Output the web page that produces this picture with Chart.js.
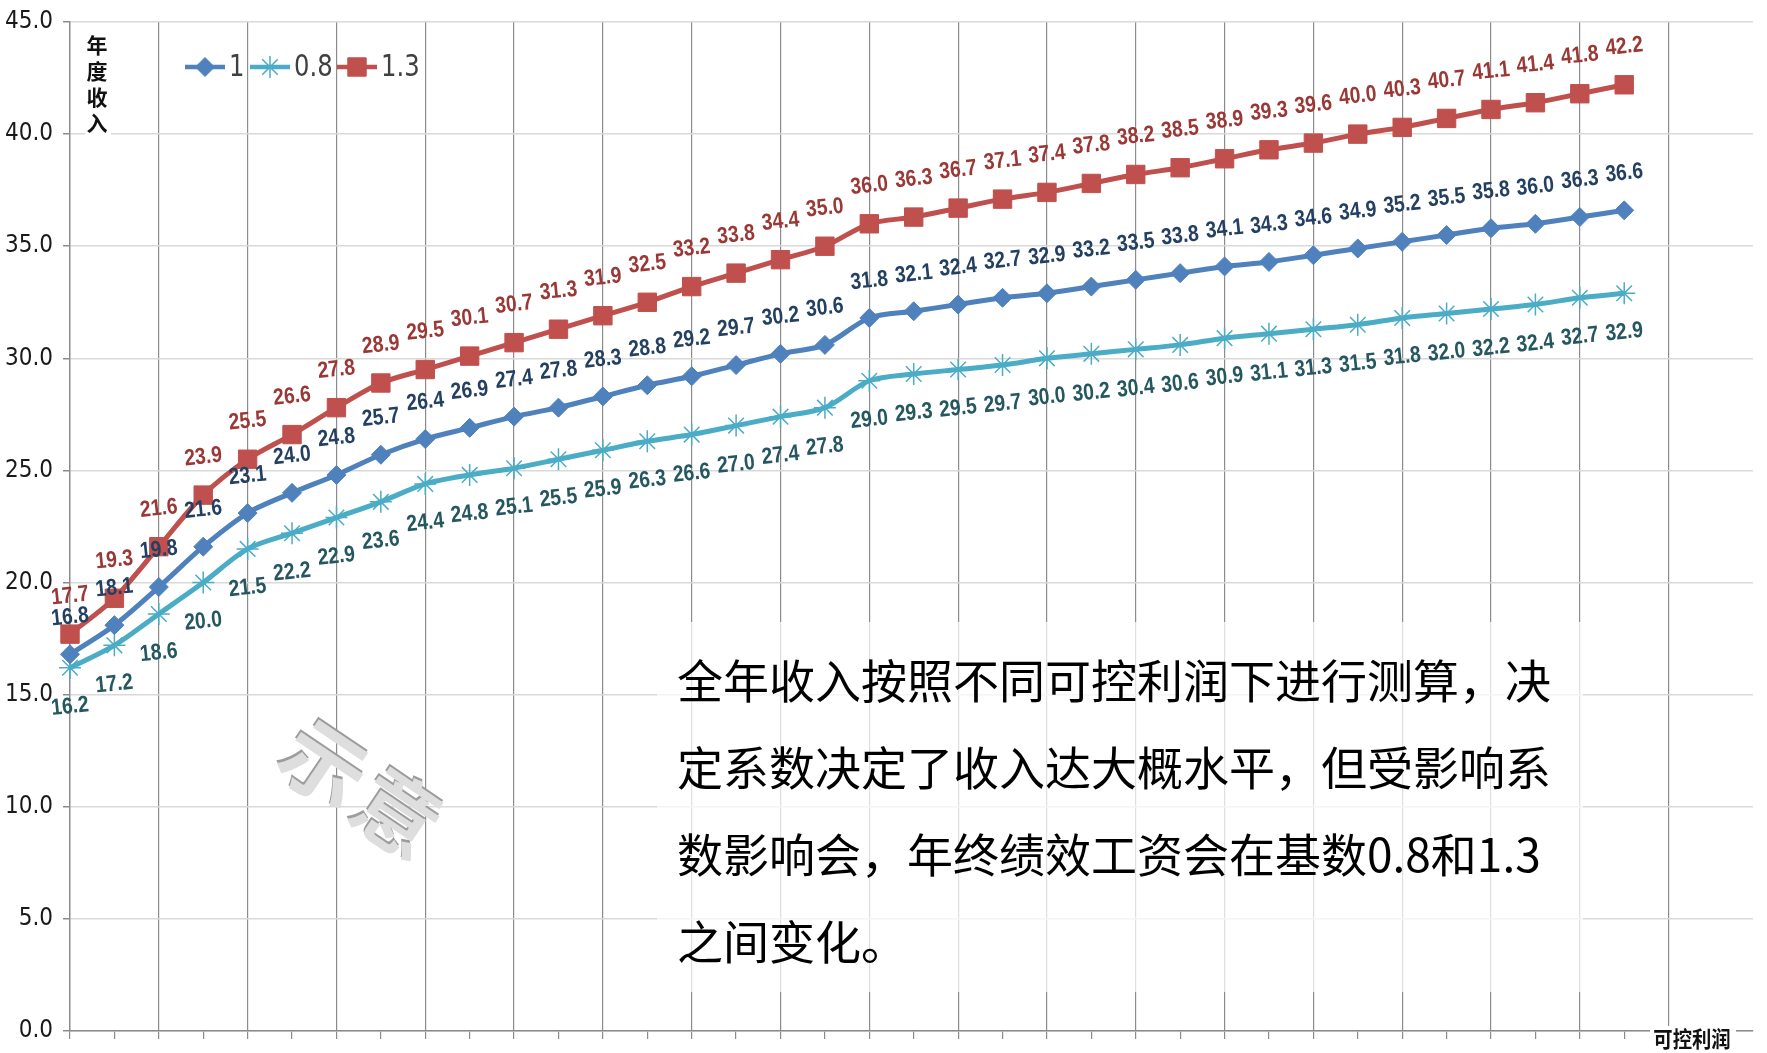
<!DOCTYPE html>
<html lang="zh-CN">
<head>
<meta charset="utf-8">
<title>年度收入测算</title>
<script src="https://cdn.jsdelivr.net/npm/chart.js@4/dist/chart.umd.min.js"></script>
<style>
  html, body { margin: 0; padding: 0; background: #fff; }
  #wrap { width: 1767px; height: 1053px; }
</style>
</head>
<body>
<div id="wrap"><canvas id="incomeChart" width="1767" height="1053"></canvas></div>
<script>
// 可控利润档位（横轴只画刻度，不写文字）
const profitSteps = [1, 2, 3, 4, 5, 6, 7, 8, 9, 10, 11, 12, 13, 14, 15, 16, 17, 18,
  19, 20, 21, 22, 23, 24, 25, 26, 27, 28, 29, 30, 31, 32, 33, 34, 35, 36];
const xTickMarks = [...profitSteps, 37, 38];
const yTicks = [0, 5, 10, 15, 20, 25, 30, 35, 40, 45];

// 三个系数下的年度收入
const seriesNames = ["1", "0.8", "1.3"];
const income10 = [16.8, 18.1, 19.8, 21.6, 23.1, 24.0, 24.8, 25.7, 26.4, 26.9, 27.4, 27.8,
  28.3, 28.8, 29.2, 29.7, 30.2, 30.6, 31.8, 32.1, 32.4, 32.7, 32.9, 33.2,
  33.5, 33.8, 34.1, 34.3, 34.6, 34.9, 35.2, 35.5, 35.8, 36.0, 36.3, 36.6];
const income08 = [16.2, 17.2, 18.6, 20.0, 21.5, 22.2, 22.9, 23.6, 24.4, 24.8, 25.1, 25.5,
  25.9, 26.3, 26.6, 27.0, 27.4, 27.8, 29.0, 29.3, 29.5, 29.7, 30.0, 30.2,
  30.4, 30.6, 30.9, 31.1, 31.3, 31.5, 31.8, 32.0, 32.2, 32.4, 32.7, 32.9];
const income13 = [17.7, 19.3, 21.6, 23.9, 25.5, 26.6, 27.8, 28.9, 29.5, 30.1, 30.7, 31.3,
  31.9, 32.5, 33.2, 33.8, 34.4, 35.0, 36.0, 36.3, 36.7, 37.1, 37.4, 37.8,
  38.2, 38.5, 38.9, 39.3, 39.6, 40.0, 40.3, 40.7, 41.1, 41.4, 41.8, 42.2];

const noteLines = [
  "全年收入按照不同可控利润下进行测算，决",
  "定系数决定了收入达大概水平，但受影响系",
  "数影响会，年终绩效工资会在基数0.8和1.3",
  "之间变化。"
];

const NARROW = '"Liberation Sans Narrow", "DejaVu Sans Condensed", sans-serif';
const CJK = '"Noto Sans CJK SC", "Noto Sans", sans-serif';
const AXIS_GRAY = "#8c8c8c";
const legendX = [185, 250, 337];

// 数据标签：每个点上方/下方写数值，略微倾斜
const valueLabels = {
  id: "valueLabels",
  afterDatasetsDraw(chart) {
    const ctx = chart.ctx;
    chart.data.datasets.forEach((ds, di) => {
      const meta = chart.getDatasetMeta(di);
      meta.data.forEach((pt, i) => {
        ctx.save();
        ctx.translate(pt.x, pt.y + ds.labelOffset);
        ctx.rotate(-6 * Math.PI / 180);
        ctx.scale(0.84, 1);
        ctx.font = "bold 23px 'Liberation Sans', sans-serif";
        ctx.fillStyle = ds.labelColor;
        ctx.textAlign = "center";
        ctx.textBaseline = "middle";
        ctx.fillText(ds.data[i].toFixed(1), 0, 0);
        ctx.restore();
      });
    });
  }
};

// 图例、坐标轴标题、水印和说明文字
const extras = {
  id: "extras",
  afterDraw(chart) {
    const ctx = chart.ctx;

    // legend: line + marker + name
    const ly = 67;
    chart.data.datasets.forEach((ds, i) => {
      const x = legendX[i];
      ctx.save();
      ctx.strokeStyle = ds.borderColor;
      ctx.lineWidth = 4.5;
      ctx.beginPath();
      ctx.moveTo(x, ly);
      ctx.lineTo(x + 40, ly);
      ctx.stroke();
      ctx.fillStyle = ds.pointBackgroundColor;
      ctx.strokeStyle = ds.pointBorderColor;
      ctx.lineWidth = ds.pointBorderWidth;
      Chart.helpers.drawPoint(ctx, {
        pointStyle: ds.pointStyle,
        radius: ds.pointRadius,
        borderWidth: ds.pointBorderWidth,
        rotation: 0
      }, x + 20, ly);
      ctx.translate(x + 44, ly + 1);
      ctx.scale(0.9, 1);
      ctx.font = "30px " + NARROW;
      ctx.fillStyle = "#404040";
      ctx.textBaseline = "middle";
      ctx.fillText(ds.label, 0, 0);
      ctx.restore();
    });

    // y title, stacked characters
    ctx.save();
    ctx.fillStyle = "#fff";
    ctx.fillRect(85, 30, 26, 110);
    ctx.font = "bold 21px " + CJK;
    ctx.fillStyle = "#111";
    ctx.textAlign = "center";
    ctx.textBaseline = "middle";
    ["年", "度", "收", "入"].forEach((ch, i) => ctx.fillText(ch, 97, 45 + i * 26));
    ctx.restore();

    // x title at the bottom right
    ctx.save();
    ctx.fillStyle = "#fff";
    ctx.fillRect(1650, 1026, 86, 27);
    ctx.translate(1692, 1039);
    ctx.scale(0.88, 1);
    ctx.font = "bold 22px " + CJK;
    ctx.fillStyle = "#111";
    ctx.textAlign = "center";
    ctx.textBaseline = "middle";
    ctx.fillText("可控利润", 0, 0);
    ctx.restore();

    // "示意" watermark
    ctx.save();
    ctx.translate(361, 789);
    ctx.rotate(34 * Math.PI / 180);
    ctx.font = "bold 84px " + CJK;
    ctx.textAlign = "center";
    ctx.textBaseline = "middle";
    ["示", "意"].forEach((ch, i) => {
      const cx = (i - 0.5) * 88;
      ctx.fillStyle = "#9c9c9c";
      ctx.fillText(ch, cx - 2, -2);
      ctx.fillStyle = "#dedede";
      ctx.fillText(ch, cx, 0);
    });
    ctx.restore();

    // note box
    ctx.save();
    ctx.fillStyle = "rgba(255,255,255,0.72)";
    ctx.fillRect(657, 622, 926, 370);
    ctx.font = "46px " + CJK;
    ctx.fillStyle = "#000";
    ctx.textBaseline = "middle";
    noteLines.forEach((line, i) => ctx.fillText(line, 677, 681 + i * 87));
    ctx.restore();
  }
};

new Chart(document.getElementById("incomeChart"), {
  type: "line",
  data: {
    labels: profitSteps,
    datasets: [
      {
        label: seriesNames[0],
        data: income10,
        borderColor: "#4f81bd",
        borderWidth: 5,
        pointStyle: "rectRot",
        pointRadius: 9.5,
        pointBackgroundColor: "#4f81bd",
        pointBorderColor: "#4f81bd",
        pointBorderWidth: 1,
        labelColor: "#233f62",
        labelOffset: -37
      },
      {
        label: seriesNames[1],
        data: income08,
        borderColor: "#4bacc6",
        borderWidth: 5,
        pointStyle: "star",
        pointRadius: 11,
        pointBackgroundColor: "#4bacc6",
        pointBorderColor: "#4bacc6",
        pointBorderWidth: 1.5,
        labelColor: "#24575f",
        labelOffset: 39
      },
      {
        label: seriesNames[2],
        data: income13,
        borderColor: "#c0504d",
        borderWidth: 5,
        pointStyle: "rect",
        pointRadius: 13,
        pointBackgroundColor: "#c0504d",
        pointBorderColor: "#c0504d",
        pointBorderWidth: 1,
        labelColor: "#9a3836",
        labelOffset: -38
      }
    ]
  },
  options: {
    responsive: false,
    animation: false,
    clip: false,
    layout: { padding: { top: 20, right: 0, bottom: 0, left: 0 } },
    elements: { line: { tension: 0.3 } },
    plugins: {
      legend: { display: false },
      tooltip: { enabled: false }
    },
    scales: {
      x: {
        type: "linear",
        min: 1,
        max: 38.9,
        afterBuildTicks: (scale) => {
          scale.ticks = xTickMarks.map((v) => ({ value: v }));
        },
        afterFit: (scale) => { scale.height = 12; },
        ticks: { display: false },
        grid: {
          color: (c) => (c.tick && c.tick.value > 1 && (c.tick.value - 1) % 2 === 0) ? AXIS_GRAY : "rgba(0,0,0,0)",
          lineWidth: 1.2,
          tickLength: 8,
          tickColor: AXIS_GRAY,
          tickWidth: 1.2
        },
        border: { color: AXIS_GRAY, width: 1.5 }
      },
      y: {
        min: 0,
        max: 45,
        afterBuildTicks: (scale) => {
          scale.ticks = yTicks.map((v) => ({ value: v }));
        },
        afterFit: (scale) => { scale.width = 70; },
        ticks: {
          font: { family: NARROW, size: 24, lineHeight: 1 },
          color: "#1a1a1a",
          padding: 10,
          callback: (v) => Number(v).toFixed(1)
        },
        grid: {
          color: "#d9d9d9",
          lineWidth: 1.5,
          tickLength: 7,
          tickColor: AXIS_GRAY
        },
        border: { color: AXIS_GRAY, width: 1.5 }
      }
    }
  },
  plugins: [valueLabels, extras]
});
</script>
</body>
</html>
